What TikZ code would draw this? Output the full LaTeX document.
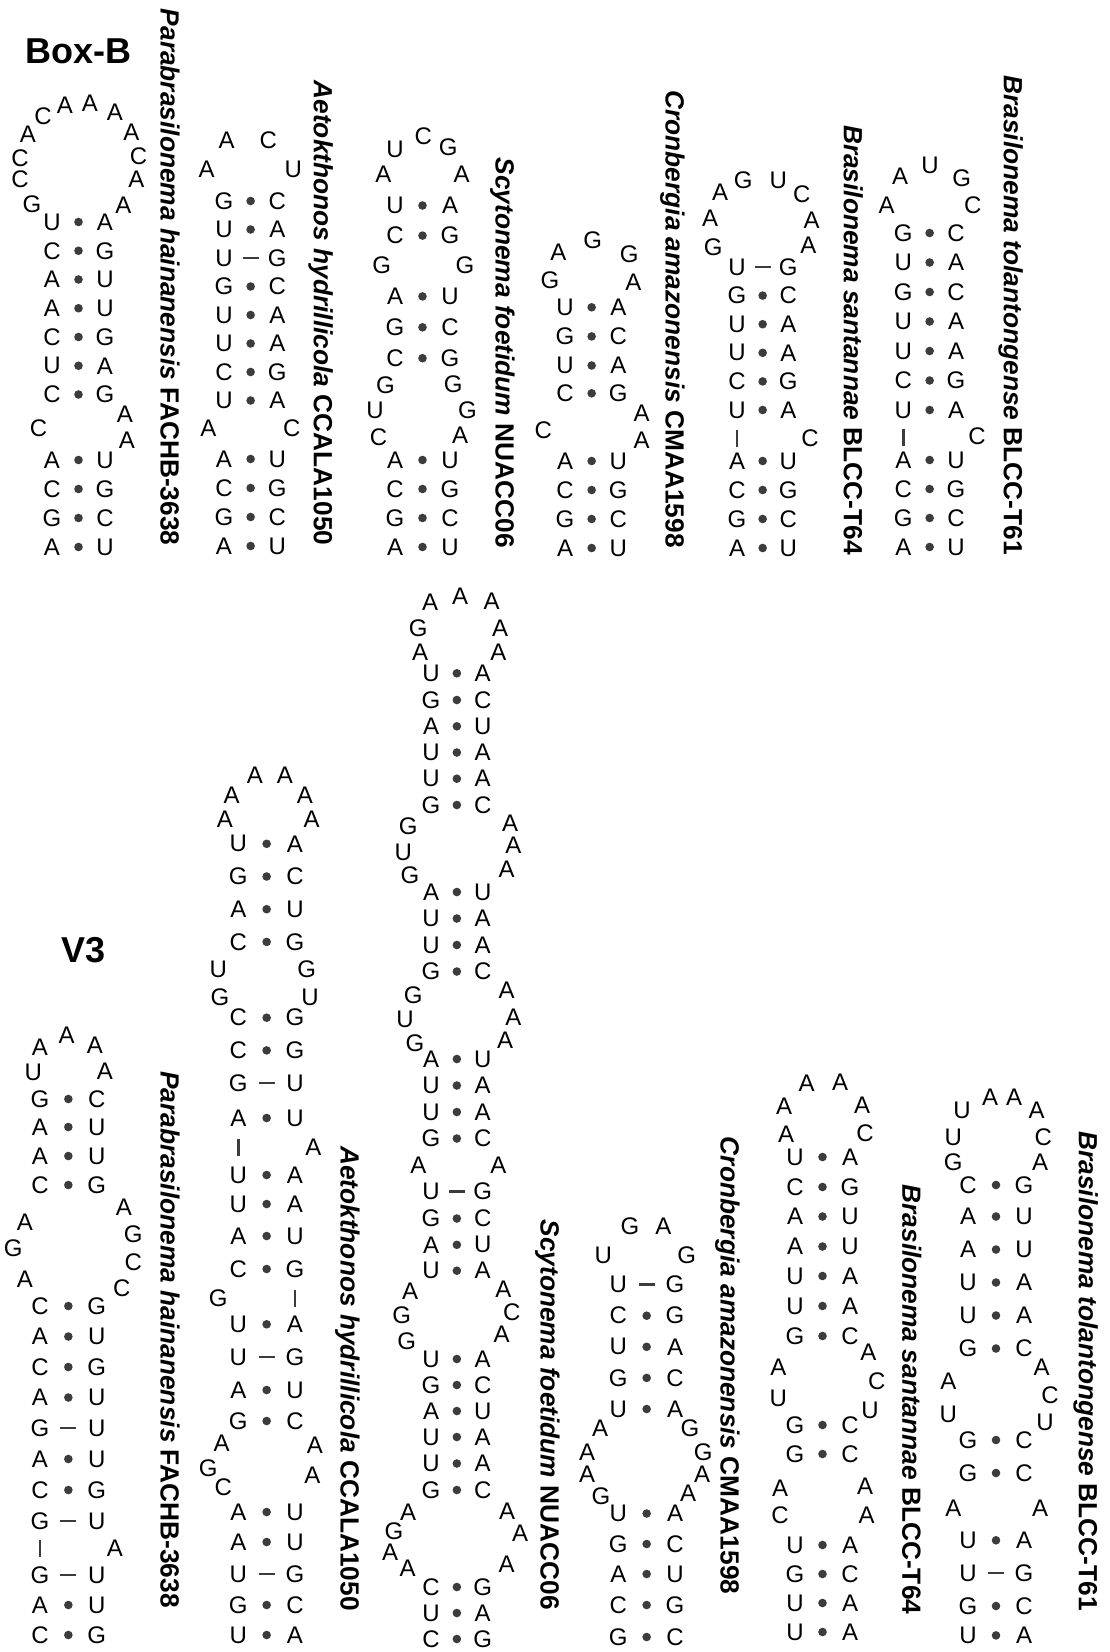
\documentclass[tikz,border=0pt]{standalone}
\usepackage{fontspec}
\setmainfont{Liberation Sans}
\definecolor{pairgray}{HTML}{3C3C3C}
% nucleotide, label and title fonts
\newcommand\ntfont{\fontsize{24}{24}\selectfont}
\newcommand\labfont{\fontsize{26.3}{26.3}\selectfont\bfseries}
\newcommand\ttlfont{\fontsize{36}{36}\selectfont\bfseries}
\tikzset{
  nt/.style={font=\ntfont, inner sep=0pt, anchor=center},
  lab/.style={font=\labfont, inner sep=0pt, rotate=-90, anchor=base east},
  ttl/.style={font=\ttlfont, inner sep=0pt, anchor=center},
  pdot/.style={fill=pairgray},
  pbond/.style={draw=pairgray, line width=2.5pt}
}
% single unpaired nucleotide
\newcommand\N[3]{\node[nt] at (#1,#2) {#3};}
% Watson-Crick pair: xL xR y left right
\newcommand\bpd[5]{\node[nt] at (#1,#3) {#4};\node[nt] at (#2,#3) {#5};
  \fill[pdot] ({(#1+#2)/2},#3) circle[radius=4.3];}
% wobble pair drawn with a bar
\newcommand\bpw[5]{\node[nt] at (#1,#3) {#4};\node[nt] at (#2,#3) {#5};
  \draw[pbond] ({(#1+#2)/2-8},#3) -- ({(#1+#2)/2+8},#3);}
% backbone bar across a bulge
\newcommand\vbar[2]{\draw[pbond] (#1,{#2-8.5}) -- (#1,{#2+8.5});}
% strain label, read top to bottom, ending at (x, yend)
\newcommand\lab[4]{\node[lab] at ({#1-9.4},#2) {\textit{#3} #4};}
\begin{document}
\begin{tikzpicture}[x=1pt,y=-1pt]
\useasboundingbox (0,0) rectangle (1110,1652);

%% ---------------- Box-B ----------------
\node[ttl] at (78.5,51) {Box-B};

% Parabrasilonema hainanensis
\N{32}{204}{G}\N{20}{179}{C}\N{20}{158}{C}\N{28}{134.5}{A}\N{43}{116}{C}\N{65}{105.5}{A}
\N{90}{103.5}{A}\N{115}{112.5}{A}\N{131.5}{132.5}{A}\N{138.5}{156.5}{C}\N{136.5}{179}{A}\N{123.5}{205.5}{A}
\bpd{52}{105}{222}{U}{A}
\bpd{52}{105}{250.75}{C}{G}
\bpd{52}{105}{279.5}{A}{U}
\bpd{52}{105}{308.25}{A}{U}
\bpd{52}{105}{337}{C}{G}
\bpd{52}{105}{365.75}{U}{A}
\bpd{52}{105}{394.5}{C}{G}
\N{38.5}{428}{C}\N{125}{414}{A}\N{127}{440}{A}
\bpd{52}{105}{460}{A}{U}
\bpd{52}{105}{489}{C}{G}
\bpd{52}{105}{518}{G}{C}
\bpd{52}{105}{547}{A}{U}
\lab{170}{545.5}{Parabrasilonema hainanensis}{FACHB-3638}

% Aetokthonos hydrillicola
\N{206.7}{169}{A}\N{226.7}{140}{A}\N{268.3}{140}{C}\N{293.3}{169}{U}
\bpd{224}{277.3}{201}{G}{C}
\bpd{224}{277.3}{229.5}{U}{A}
\bpw{224}{277.3}{258}{U}{G}
\bpd{224}{277.3}{286.5}{G}{C}
\bpd{224}{277.3}{315}{U}{A}
\bpd{224}{277.3}{343.5}{U}{A}
\bpd{224}{277.3}{372}{C}{G}
\bpd{224}{277.3}{400.5}{U}{A}
\N{208.3}{428}{A}\N{291.7}{428}{C}
\bpd{224}{277.3}{459}{A}{U}
\bpd{224}{277.3}{488}{C}{G}
\bpd{224}{277.3}{517}{G}{C}
\bpd{224}{277.3}{546}{A}{U}
\lab{323.3}{545.5}{Aetokthonos hydrillicola}{CCALA1050}

% Scytonema foetidum
\N{383.3}{174.5}{A}\N{395}{149}{U}\N{423.3}{136.5}{C}\N{448.3}{147.3}{G}\N{461.7}{173.8}{A}
\bpd{395}{450}{205.5}{U}{A}
\bpd{395}{450}{235.6}{C}{G}
\N{381.7}{265.5}{G}\N{465}{265.5}{G}
\bpd{395}{450}{296.4}{A}{U}
\bpd{395}{450}{327.3}{G}{C}
\bpd{395}{450}{358.2}{C}{G}
\N{385.5}{385}{G}\N{375}{410}{U}\N{378.5}{437}{C}\N{453.3}{384}{G}\N{467.5}{410}{G}\N{460}{435}{A}
\bpd{395}{450}{460}{A}{U}
\bpd{395}{450}{489}{C}{G}
\bpd{395}{450}{518}{G}{C}
\bpd{395}{450}{547}{A}{U}
\lab{505}{548}{Scytonema foetidum}{NUACC06}

% Cronbergia amazonensis
\N{550}{280}{G}\N{558.3}{252.7}{A}\N{592.7}{240.7}{G}\N{629.3}{253.8}{G}\N{633.3}{281.8}{A}
\bpd{565}{618.3}{307.3}{U}{A}
\bpd{565}{618.3}{336.4}{G}{C}
\bpd{565}{618.3}{365.5}{U}{A}
\bpd{565}{618.3}{393.3}{C}{G}
\N{543.3}{430}{C}\N{641.7}{413.3}{A}\N{641.7}{440}{A}
\bpd{565}{618.3}{461}{A}{U}
\bpd{565}{618.3}{490}{C}{G}
\bpd{565}{618.3}{519}{G}{C}
\bpd{565}{618.3}{548}{A}{U}
\lab{675}{548}{Cronbergia amazonensis}{CMAA1598}

% Brasilonema santannae
\N{713.3}{247.3}{G}\N{710}{218.2}{A}\N{720}{192.7}{A}\N{743.3}{180}{G}\N{778.3}{180}{U}
\N{801.7}{194.5}{C}\N{811.7}{220}{A}\N{808.3}{245.5}{A}
\bpw{737}{788.3}{267}{U}{G}
\bpd{737}{788.3}{295.6}{G}{C}
\bpd{737}{788.3}{324.2}{U}{A}
\bpd{737}{788.3}{352.8}{U}{A}
\bpd{737}{788.3}{381.4}{C}{G}
\bpd{737}{788.3}{410}{U}{A}
\vbar{737}{438}\N{810}{438}{C}
\bpd{737}{788.3}{461}{A}{U}
\bpd{737}{788.3}{490}{C}{G}
\bpd{737}{788.3}{519}{G}{C}
\bpd{737}{788.3}{548}{A}{U}
\lab{853.3}{555}{Brasilonema santannae}{BLCC-T64}

% Brasilonema tolantongense
\N{886.7}{205.5}{A}\N{900}{176.4}{A}\N{930}{165.5}{U}\N{961.7}{178.2}{G}\N{972.7}{205.5}{C}
\bpd{903.3}{956}{233}{G}{C}
\bpd{903.3}{956}{262.5}{U}{A}
\bpd{903.3}{956}{292}{G}{C}
\bpd{903.3}{956}{321.5}{U}{A}
\bpd{903.3}{956}{351}{U}{A}
\bpd{903.3}{956}{380.5}{C}{G}
\bpd{903.3}{956}{410}{U}{A}
\vbar{903.3}{437}\N{977}{436}{C}
\bpd{903.3}{956}{460}{A}{U}
\bpd{903.3}{956}{489}{C}{G}
\bpd{903.3}{956}{518}{G}{C}
\bpd{903.3}{956}{547}{A}{U}
\lab{1013.3}{555}{Brasilonema tolantongense}{BLCC-T61}

%% ---------------- V3 ----------------
\node[ttl] at (84,950) {V3};

% Parabrasilonema hainanensis
\N{33.3}{1072.8}{U}\N{40}{1047}{A}\N{66.7}{1035}{A}\N{95}{1045.2}{A}\N{105}{1071}{A}
\bpd{40}{96.7}{1099}{G}{C}
\bpd{40}{96.7}{1127}{A}{U}
\bpd{40}{96.7}{1156}{A}{U}
\bpd{40}{96.7}{1185}{C}{G}
\N{25}{1222.3}{A}\N{13.3}{1248.3}{G}\N{25}{1279.4}{A}
\N{124}{1207}{A}\N{133.3}{1234.4}{G}\N{133.3}{1262.1}{C}\N{121.7}{1288}{C}
\bpd{40}{96.7}{1306}{C}{G}
\bpd{40}{96.7}{1336.5}{A}{U}
\bpd{40}{96.7}{1367}{C}{G}
\bpd{40}{96.7}{1397.5}{A}{U}
\bpw{40}{96.7}{1428}{G}{U}
\bpd{40}{96.7}{1459}{A}{U}
\bpd{40}{96.7}{1490}{C}{G}
\bpw{40}{96.7}{1521}{G}{U}
\vbar{40}{1548}\N{115}{1548}{A}
\bpw{40}{96.7}{1575}{G}{U}
\bpd{40}{96.7}{1605}{A}{U}
\bpd{40}{96.7}{1635}{C}{G}
\lab{170}{1608}{Parabrasilonema hainanensis}{FACHB-3638}

% Aetokthonos hydrillicola
\N{225}{819.7}{A}\N{231.7}{795.6}{A}\N{255}{775}{A}\N{285}{775}{A}\N{305}{795.6}{A}\N{311.7}{819.7}{A}
\bpd{238.3}{295}{843.8}{U}{A}
\bpd{238.3}{295}{876.5}{G}{C}
\bpd{238.3}{295}{909.2}{A}{U}
\bpd{238.3}{295}{941.9}{C}{G}
\N{218.3}{969.4}{U}\N{220}{997}{G}\N{306.7}{969.4}{G}\N{310}{997}{U}
\bpd{238.3}{295}{1017.7}{C}{G}
\bpd{238.3}{295}{1050.4}{C}{G}
\bpw{238.3}{295}{1083.1}{G}{U}
\bpd{238.3}{295}{1118}{A}{U}
\vbar{238.3}{1147}\N{313.3}{1147}{A}
\bpd{238.3}{295}{1175}{U}{A}
\bpd{238.3}{295}{1204}{U}{A}
\bpd{238.3}{295}{1236}{A}{U}
\bpd{238.3}{295}{1269}{C}{G}
\N{218.3}{1298.4}{G}\vbar{295}{1298}
\bpd{238.3}{295}{1324.3}{U}{A}
\bpw{238.3}{295}{1357}{U}{G}
\bpd{238.3}{295}{1390}{A}{U}
\bpd{238.3}{295}{1421}{G}{C}
\N{221.7}{1443.6}{A}\N{208.3}{1467.8}{G}\N{223.3}{1487.5}{C}\N{315}{1445.3}{A}\N{312.5}{1475.5}{A}
\bpd{238.3}{295}{1512}{A}{U}
\bpd{238.3}{295}{1542}{A}{U}
\bpw{238.3}{295}{1574}{U}{G}
\bpd{238.3}{295}{1605}{G}{C}
\bpd{238.3}{295}{1635}{U}{A}
\lab{350}{1611}{Aetokthonos hydrillicola}{CCALA1050}

% Scytonema foetidum
\N{420}{652}{A}\N{418.3}{628.5}{G}\N{430}{602.7}{A}\N{460}{595.8}{A}\N{491.7}{601}{A}\N{500}{628.5}{A}\N{498.3}{652}{A}
\bpd{431}{482.7}{673.3}{U}{A}
\bpd{431}{482.7}{700}{G}{C}
\bpd{431}{482.7}{726.3}{A}{U}
\bpd{431}{482.7}{752.5}{U}{A}
\bpd{431}{482.7}{778.7}{U}{A}
\bpd{431}{482.7}{805}{G}{C}
\N{408.3}{826.5}{G}\N{403.3}{852.4}{U}\N{410}{874.8}{G}\N{510}{823.1}{A}\N{513.3}{845.5}{A}\N{506.7}{869.6}{A}
\bpd{431}{482.7}{892}{A}{U}
\bpd{431}{482.7}{918.5}{U}{A}
\bpd{431}{482.7}{945}{U}{A}
\bpd{431}{482.7}{971.5}{G}{C}
\N{413.3}{995.3}{G}\N{405}{1019.4}{U}\N{415}{1043.5}{G}\N{506.7}{990.1}{A}\N{513.3}{1017.7}{A}\N{505}{1040}{A}
\bpd{431}{482.7}{1059}{A}{U}
\bpd{431}{482.7}{1085.5}{U}{A}
\bpd{431}{482.7}{1112}{U}{A}
\bpd{431}{482.7}{1138.5}{G}{C}
\N{418.3}{1165.3}{A}\N{498.3}{1165.3}{A}
\bpw{431}{482.7}{1191.5}{U}{G}
\bpd{431}{482.7}{1218.5}{G}{C}
\bpd{431}{482.7}{1244.8}{A}{U}
\bpd{431}{482.7}{1270.7}{U}{A}
\N{410}{1291.5}{A}\N{401.7}{1315.7}{G}\N{406.7}{1341.6}{G}\N{503.3}{1289.7}{A}\N{511.7}{1312.2}{C}\N{501.7}{1334.7}{A}
\bpd{431}{482.7}{1359}{U}{A}
\bpd{431}{482.7}{1385}{G}{C}
\bpd{431}{482.7}{1411}{A}{U}
\bpd{431}{482.7}{1437}{U}{A}
\bpd{431}{482.7}{1463.5}{U}{A}
\bpd{431}{482.7}{1490}{G}{C}
\N{408}{1512}{A}\N{394}{1531}{G}\N{390}{1552}{A}\N{407.5}{1568}{A}\N{507}{1511.5}{A}\N{520}{1533.4}{A}\N{506.5}{1564}{A}
\bpd{431}{482.7}{1587}{C}{G}
\bpd{431}{482.7}{1613}{U}{A}
\bpd{431}{482.7}{1639}{C}{G}
\lab{550}{1610}{Scytonema foetidum}{NUACC06}

% Cronbergia amazonensis
\N{603.3}{1255.2}{U}\N{630}{1225.8}{G}\N{663.3}{1225.8}{A}\N{686.7}{1255.2}{G}
\bpw{618.3}{675}{1284.6}{U}{G}
\bpd{618.3}{675}{1315.7}{C}{G}
\bpd{618.3}{675}{1346.8}{U}{A}
\bpd{618.3}{675}{1377.9}{G}{C}
\bpd{618.3}{675}{1409}{U}{A}
\N{600}{1428}{A}\N{587}{1452.2}{A}\N{587}{1474}{A}\N{601}{1496}{G}
\N{690}{1428}{G}\N{703.3}{1452.2}{G}\N{702}{1474}{A}\N{688}{1493}{A}
\bpd{618.3}{675}{1513.5}{U}{A}
\bpd{618.3}{675}{1544}{G}{C}
\bpd{618.3}{675}{1574}{A}{U}
\bpd{618.3}{675}{1605}{C}{G}
\bpd{618.3}{675}{1637}{G}{C}
\lab{730}{1594.5}{Cronbergia amazonensis}{CMAA1598}

% Brasilonema santannae
\N{786}{1134}{A}\N{784}{1106}{A}\N{806.7}{1083.5}{A}\N{840}{1082}{A}\N{862}{1105}{A}\N{865}{1133}{C}
\bpd{795}{850}{1157}{U}{A}
\bpd{795}{850}{1187}{C}{G}
\bpd{795}{850}{1216.5}{A}{U}
\bpd{795}{850}{1246.5}{A}{U}
\bpd{795}{850}{1276}{U}{A}
\bpd{795}{850}{1306}{U}{A}
\bpd{795}{850}{1336}{G}{C}
\N{778.3}{1367.5}{A}\N{778.3}{1398.6}{U}\N{868.3}{1352}{A}\N{876.7}{1381.3}{C}\N{870}{1410.7}{U}
\bpd{795}{850}{1425}{G}{C}
\bpd{795}{850}{1454}{G}{C}
\N{780}{1488}{A}\N{780}{1515}{C}\N{865}{1486}{A}\N{866.7}{1515.5}{A}
\bpd{795}{850}{1545}{U}{A}
\bpd{795}{850}{1574}{G}{C}
\bpd{795}{850}{1603}{U}{A}
\bpd{795}{850}{1632}{U}{A}
\lab{911.7}{1614.5}{Brasilonema santannae}{BLCC-T64}

% Brasilonema tolantongense
\N{953.3}{1161.8}{G}\N{953.3}{1137.7}{U}\N{962}{1110}{U}\N{990}{1097}{A}\N{1014}{1097}{A}
\N{1036.7}{1110}{A}\N{1043.3}{1137.7}{C}\N{1040}{1161.8}{A}
\bpd{968}{1024}{1185}{C}{G}
\bpd{968}{1024}{1216.5}{A}{U}
\bpd{968}{1024}{1249.5}{A}{U}
\bpd{968}{1024}{1282.5}{U}{A}
\bpd{968}{1024}{1315.5}{U}{A}
\bpd{968}{1024}{1348.5}{G}{C}
\N{948.3}{1381.3}{A}\N{948.3}{1414.2}{U}\N{1041.7}{1367.5}{A}\N{1050}{1395.2}{C}\N{1045}{1422.8}{U}
\bpd{968}{1024}{1440}{G}{C}
\bpd{968}{1024}{1473}{G}{C}
\N{953.3}{1508}{A}\N{1040}{1508}{A}
\bpd{968}{1024}{1540.3}{U}{A}
\bpw{968}{1024}{1573}{U}{G}
\bpd{968}{1024}{1606}{G}{C}
\bpd{968}{1024}{1635.4}{U}{A}
\lab{1088.3}{1611}{Brasilonema tolantongense}{BLCC-T61}
\end{tikzpicture}
\end{document}
